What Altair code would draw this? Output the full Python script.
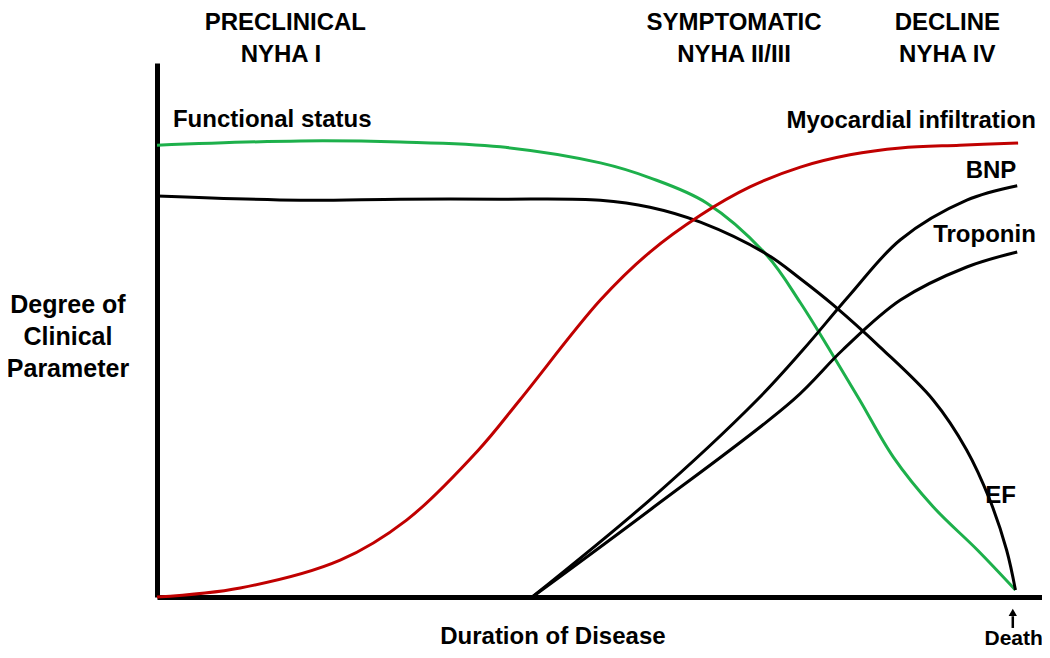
import altair as alt
import pandas as pd

# ---- curve data (x: duration of disease 0-100, y: degree of parameter 0-100) ----
functional_x = [0, 16.2, 27.5, 38.8, 50.1, 55.7, 62.1, 68.9, 72.7, 76.0, 79.4, 83.2, 87.7, 92.7, 97.0]
functional_y = [84.6, 85.4, 85.2, 84.3, 81.3, 78.5, 73.8, 64.0, 55.1, 46.3, 36.9, 26.2, 16.9, 8.8, 1.3]

ef_x = [0, 16.2, 27.5, 38.8, 50.1, 55.7, 61.4, 68.9, 72.7, 76.4, 81.7, 87.7, 91.5, 94.1, 96.0, 97.0]
ef_y = [75.1, 74.3, 74.5, 74.5, 74.3, 73.0, 70.2, 64.2, 59.6, 54.7, 46.8, 36.9, 27.5, 18.2, 8.8, 1.3]

infil_x = [0, 9.4, 20.7, 28.2, 36.3, 41.0, 50.1, 55.7, 61.4, 67.0, 72.7, 78.3, 84.0, 90.7, 97.3]
infil_y = [0, 1.7, 6.9, 14.4, 27.5, 36.9, 55.6, 64.6, 71.5, 76.8, 80.5, 82.8, 84.1, 84.6, 85.0]

bnp_x = [42.4, 55.7, 67.8, 73.0, 78.3, 84.0, 91.5, 97.2]
bnp_y = [0, 18.2, 36.9, 46.3, 56.6, 66.9, 74.3, 77.0]

trop_x = [42.4, 55.7, 71.9, 77.5, 84.0, 91.5, 97.2]
trop_y = [0, 16.3, 36.9, 46.3, 55.6, 61.8, 64.6]

series_names = ["Functional status", "EF", "Myocardial infiltration", "BNP", "Troponin"]
series_colors = ["#1DB04B", "#000000", "#C00000", "#000000", "#000000"]

# ---- annotation texts ----
header_texts = ["PRECLINICAL", "NYHA I", "SYMPTOMATIC", "NYHA II/III", "DECLINE", "NYHA IV"]
header_x = [14.5, 14.0, 65.2, 65.2, 89.3, 89.3]
header_y = [106.2, 100.2, 106.2, 100.2, 106.2, 100.2]

ylabel_texts = ["Degree of", "Clinical", "Parameter"]
ylabel_x = [-10.06, -10.06, -10.06]
ylabel_y = [53.2, 47.2, 41.2]

left_texts = ["Functional status", "EF", "Duration of Disease"]
left_x = [1.8, 93.6, 32.0]
left_y = [88.0, 17.6, -8.8]

right_texts = ["Myocardial infiltration", "BNP", "Troponin"]
right_x = [99.3, 97.1, 99.3]
right_y = [87.8, 78.5, 66.5]

death_text = ["Death"]
death_x = [96.8]
death_y = [-9.0]

arrow_x = [96.7]
arrow_y_start = [-5.8]
arrow_y_end = [-3.6]
arrow_tip_y = [-2.9]

# ---- build tables ----
rows = []
for name, xs, ys in [("Functional status", functional_x, functional_y),
                     ("EF", ef_x, ef_y),
                     ("Myocardial infiltration", infil_x, infil_y),
                     ("BNP", bnp_x, bnp_y),
                     ("Troponin", trop_x, trop_y)]:
    for i, (a, b) in enumerate(zip(xs, ys)):
        rows.append({"x": a, "y": b, "series": name, "order": i})
lines_df = pd.DataFrame(rows)

xscale = alt.Scale(domain=[0, 100], nice=False, zero=False)
yscale = alt.Scale(domain=[0, 100], nice=False, zero=False)
axis_style = dict(domainWidth=5, domainColor="black", ticks=False, labels=False,
                  grid=False, title="")

lines = alt.Chart(lines_df).mark_line(strokeWidth=3, interpolate="catmull-rom").encode(
    x=alt.X("x:Q", scale=xscale, axis=alt.Axis(**axis_style)),
    y=alt.Y("y:Q", scale=yscale, axis=alt.Axis(**axis_style)),
    color=alt.Color("series:N", scale=alt.Scale(domain=series_names, range=series_colors), legend=None),
    detail="series:N",
    order="order:Q",
)

font = "Liberation Sans"

def text_layer(texts, xs, ys, align, size):
    df = pd.DataFrame({"t": texts, "x": xs, "y": ys})
    return alt.Chart(df).mark_text(
        align=align, baseline="alphabetic", font=font, fontSize=size, fontWeight="bold",
        color="black", clip=False
    ).encode(
        x=alt.X("x:Q", scale=xscale),
        y=alt.Y("y:Q", scale=yscale),
        text="t:N",
    )

t_header = text_layer(header_texts, header_x, header_y, "center", 24)
t_ylabel = text_layer(ylabel_texts, ylabel_x, ylabel_y, "center", 25)
t_left = text_layer(left_texts, left_x, left_y, "left", 24)
t_right = text_layer(right_texts, right_x, right_y, "right", 24)
t_death = text_layer(death_text, death_x, death_y, "center", 21)

arrow_df = pd.DataFrame({"x": arrow_x, "y": arrow_y_start, "y2": arrow_y_end, "tip": arrow_tip_y})
arrow_shaft = alt.Chart(arrow_df).mark_rule(strokeWidth=2.5, color="black", clip=False).encode(
    x=alt.X("x:Q", scale=xscale),
    y=alt.Y("y:Q", scale=yscale),
    y2="y2:Q",
)
arrow_head = alt.Chart(arrow_df).mark_point(shape="triangle-up", filled=True, size=70,
                                            color="black", opacity=1, clip=False).encode(
    x=alt.X("x:Q", scale=xscale),
    y=alt.Y("tip:Q", scale=yscale),
)

chart = alt.layer(lines, t_header, t_ylabel, t_left, t_right, t_death, arrow_shaft, arrow_head).properties(
    width=885,
    height=534,
    autosize=alt.AutoSizeParams(type="none"),
    padding={"left": 149, "top": 55, "right": 0, "bottom": 53},
    background="white",
).configure_view(strokeWidth=0)

chart.save("out.html", embed_options={"renderer": "svg", "actions": False})
